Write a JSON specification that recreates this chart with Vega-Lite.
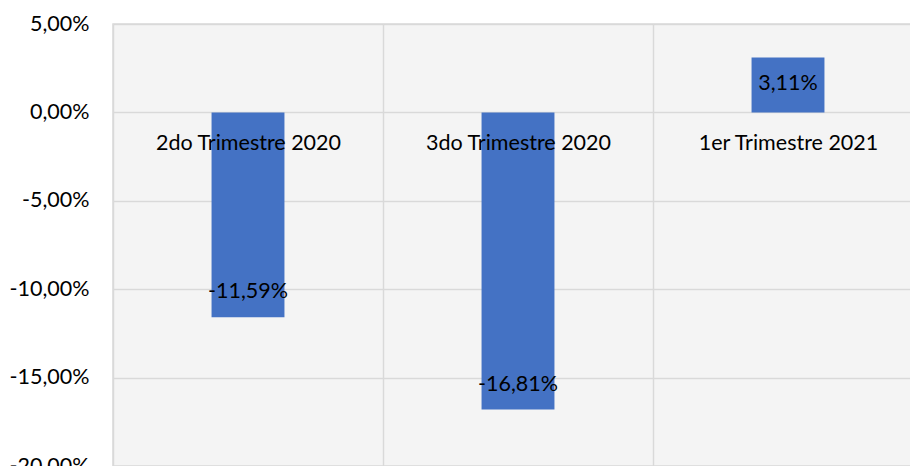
{
  "$schema": "https://vega.github.io/schema/vega-lite/v6.json",
  "width": 810,
  "height": 442,
  "autosize": {"type": "none"},
  "padding": {"left": 113, "top": 24, "right": 0, "bottom": 0},
  "background": "white",
  "config": {
    "font": "Lato",
    "locale": {
      "number": {"decimal": ",", "thousands": ".", "grouping": [3], "currency": ["", " €"], "minus": "-", "percent": "%"}
    },
    "view": {"stroke": "#d9d9d9", "strokeWidth": 1.5, "fill": "#f4f4f4"}
  },
  "data": {
    "values": [
      {"periodo": "2do Trimestre 2020", "variacion": -0.1159},
      {"periodo": "3do Trimestre 2020", "variacion": -0.1681},
      {"periodo": "1er Trimestre 2021", "variacion": 0.0311}
    ]
  },
  "encoding": {
    "x": {
      "field": "periodo",
      "type": "nominal",
      "sort": null,
      "scale": {"paddingInner": 0, "paddingOuter": 0},
      "axis": {
        "orient": "bottom",
        "offset": -353.6,
        "title": null,
        "domain": false,
        "ticks": false,
        "tickBand": "extent",
        "grid": true,
        "gridColor": "#d9d9d9",
        "gridWidth": 1.5,
        "labelAngle": 0,
        "labelPadding": 20,
        "labelFontSize": 21.5,
        "labelLimit": 300,
        "labelColor": "black",
        "zindex": 1
      }
    }
  },
  "layer": [
    {
      "mark": {"type": "bar", "color": "#4472C4", "width": {"band": 0.27}},
      "encoding": {
        "y": {
          "field": "variacion",
          "type": "quantitative",
          "scale": {"domain": [-0.2, 0.05], "nice": false, "zero": false},
          "axis": {
            "title": null,
            "values": [-0.2, -0.15, -0.1, -0.05, 0, 0.05],
            "format": ".2%",
            "domain": false,
            "ticks": false,
            "grid": true,
            "gridColor": "#d9d9d9",
            "gridWidth": 1.5,
            "labelPadding": 24,
            "labelFontSize": 21.5,
            "labelLimit": 300,
            "labelColor": "black"
          }
        }
      }
    },
    {
      "transform": [{"filter": "datum.variacion < 0"}],
      "mark": {"type": "text", "baseline": "middle", "align": "center", "dy": -25, "fontSize": 21.5, "color": "black"},
      "encoding": {
        "y": {"field": "variacion", "type": "quantitative"},
        "text": {"field": "variacion", "type": "quantitative", "format": ".2%"}
      }
    },
    {
      "transform": [{"filter": "datum.variacion >= 0"}],
      "mark": {"type": "text", "baseline": "middle", "align": "center", "dy": 27, "fontSize": 21.5, "color": "black"},
      "encoding": {
        "y": {"field": "variacion", "type": "quantitative"},
        "text": {"field": "variacion", "type": "quantitative", "format": ".2%"}
      }
    }
  ]
}
